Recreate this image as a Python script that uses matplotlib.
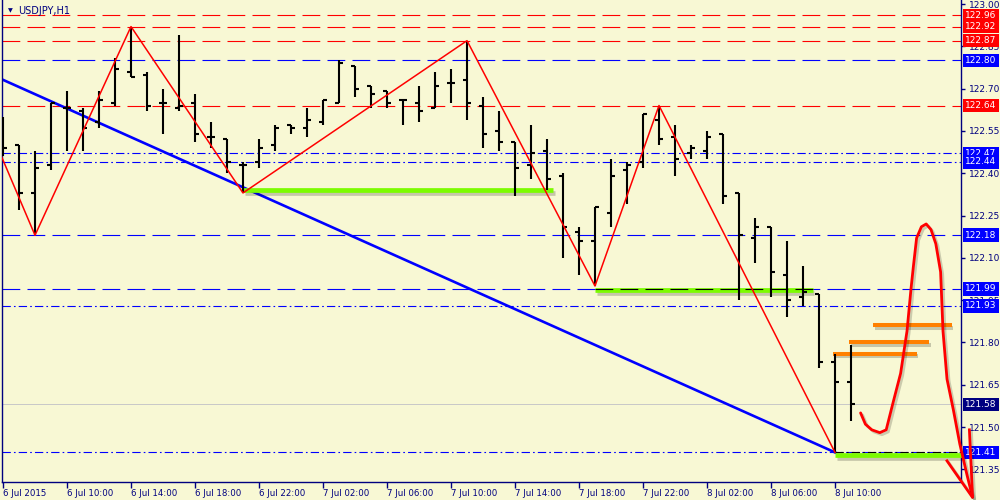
import matplotlib
matplotlib.use("Agg")
import matplotlib.pyplot as plt
import matplotlib.patheffects as pe
import numpy as np

# hourly OHLC bars, USDJPY H1 (bar 0 = first bar on screen)
opens = [122.54, 122.50, 122.33, 122.43, 122.63, 122.62, 122.58, 122.65, 122.76, 122.75,
         122.65, 122.63, 122.65, 122.53, 122.52, 122.43, 122.44, 122.50, 122.57, 122.56,
         122.58, 122.65, 122.78, 122.71, 122.69, 122.66, 122.65, 122.63, 122.72, 122.73,
         122.64, 122.55, 122.51, 122.43, 122.48, 122.39, 122.19, 122.16, 122.26, 122.41,
         122.44, 122.59, 122.53, 122.47, 122.48, 122.54, 122.33, 122.17, 122.21, 122.04,
         121.96, 121.97, 121.73, 121.66]
highs = [122.60, 122.50, 122.48, 122.65, 122.69, 122.63, 122.69, 122.81, 122.92, 122.76,
         122.70, 122.89, 122.68, 122.58, 122.52, 122.44, 122.52, 122.57, 122.57, 122.63,
         122.66, 122.80, 122.78, 122.71, 122.69, 122.66, 122.71, 122.76, 122.77, 122.87,
         122.67, 122.62, 122.51, 122.57, 122.52, 122.40, 122.21, 122.28, 122.45, 122.44,
         122.61, 122.64, 122.57, 122.50, 122.55, 122.54, 122.33, 122.24, 122.21, 122.16,
         122.07, 121.97, 121.76, 121.79]
lows = [122.46, 122.27, 122.18, 122.41, 122.48, 122.48, 122.56, 122.64, 122.74, 122.62,
        122.54, 122.62, 122.51, 122.49, 122.40, 122.33, 122.42, 122.48, 122.54, 122.53,
        122.57, 122.65, 122.67, 122.63, 122.63, 122.57, 122.58, 122.63, 122.65, 122.59,
        122.49, 122.48, 122.32, 122.38, 122.34, 122.10, 122.04, 122.00, 122.21, 122.29,
        122.42, 122.50, 122.39, 122.45, 122.45, 122.29, 121.95, 122.08, 121.96, 121.89,
        121.93, 121.71, 121.41, 121.52]
closes = [122.49, 122.33, 122.42, 122.65, 122.63, 122.56, 122.66, 122.77, 122.74, 122.64,
          122.65, 122.64, 122.54, 122.53, 122.44, 122.43, 122.49, 122.56, 122.56, 122.59,
          122.66, 122.79, 122.70, 122.68, 122.65, 122.66, 122.62, 122.71, 122.72, 122.65,
          122.54, 122.51, 122.42, 122.47, 122.38, 122.21, 122.16, 122.28, 122.39, 122.43,
          122.61, 122.52, 122.45, 122.49, 122.53, 122.32, 122.18, 122.21, 122.05, 121.95,
          121.98, 121.73, 121.66, 121.58]

time_labels = ["6 Jul 2015", "6 Jul 10:00", "6 Jul 14:00", "6 Jul 18:00", "6 Jul 22:00",
               "7 Jul 02:00", "7 Jul 06:00", "7 Jul 10:00", "7 Jul 14:00", "7 Jul 18:00",
               "7 Jul 22:00", "8 Jul 02:00", "8 Jul 06:00", "8 Jul 10:00"]

# zigzag indicator vertices (bar, price)
zz_bars = [-1, 2, 8, 15, 29, 37, 41, 52]
zz_prices = [122.58, 122.18, 122.92, 122.33, 122.87, 122.00, 122.64, 121.41]

# trend line anchors
trend_bars = [15, 52]
trend_prices = [122.35, 121.41]

# horizontal levels
red_dash = [122.96, 122.92, 122.87, 122.64]
blue_dash = [122.80, 122.18, 121.99]
blue_dashdot = [122.47, 122.44, 121.93, 121.41]
last_price = 121.58

# support zones (start bar, end bar, price)
green_start = [15, 37, 52]
green_end = [34.4, 50.6, 60.0]
green_price = [122.34, 121.985, 121.40]

# resistance marks
orange_start = [54.4, 52.9, 51.9]
orange_end = [59.3, 57.9, 57.1]
orange_price = [121.86, 121.80, 121.76]

# hand-drawn forecast curve
sketch_bars = [53.6, 53.9, 54.3, 54.8, 55.2, 55.6, 56.1, 56.5, 56.75, 56.9, 57.1, 57.4,
               57.7, 58.0, 58.3, 58.6, 58.75, 59.0, 59.4, 59.8, 60.25, 60.6]
sketch_prices = [121.55, 121.51, 121.49, 121.48, 121.49, 121.58, 121.69, 121.84, 121.99,
                 122.07, 122.17, 122.21, 122.22, 122.20, 122.15, 122.05, 121.84, 121.67,
                 121.56, 121.44, 121.33, 121.25]
arrow_bars = [59.0, 60.6, 60.4]
arrow_prices = [121.38, 121.25, 121.49]

# price tags at the right (price, colour)
tag_prices = [122.96, 122.92, 122.87, 122.80, 122.64, 122.47, 122.44, 122.18,
              121.99, 121.93, 121.58, 121.41]
tag_colors = ["#FF0000", "#FF0000", "#FF0000", "#0000FF", "#FF0000", "#0000FF", "#0000FF",
              "#0000FF", "#0000FF", "#0000FF", "#000080", "#0000FF"]

bg = "#F8F8D4"
navy = "#000080"
plt.rcParams['font.family'] = ['DejaVu Sans']

fig = plt.figure(figsize=(10, 5), dpi=100, facecolor=bg)
ax = fig.add_axes([0.002, 0.036, 0.959, 0.964])
ax.set_facecolor(bg)
ax.set_xlim(-0.0625, 59.875)
ax.set_ylim(121.305, 123.0142)

dash = (0, (16, 6.5))
dashdot = (0, (7.5, 2.8, 1.5, 2.8))

for p in red_dash:
    ax.axhline(p, color="#FF0000", lw=0.8, ls=dash, zorder=1)
for p in blue_dash:
    ax.axhline(p, color="#0000FF", lw=0.8, ls=dash, zorder=1)
for p in blue_dashdot:
    ax.axhline(p, color="#0000FF", lw=0.8, ls=dashdot, zorder=1)
ax.axhline(last_price, color="#C8C8C8", lw=0.7, zorder=1)

# trend line
slope = (trend_prices[1] - trend_prices[0]) / (trend_bars[1] - trend_bars[0])
tx = np.array([-1, trend_bars[1]])
ax.plot(tx, trend_prices[1] + slope * (tx - trend_bars[1]), color="#0000FF", lw=1.9, zorder=2)

# support zones
shadow = [pe.SimpleLineShadow(offset=(1.2, -2.0), alpha=0.2, shadow_color="black"), pe.Normal()]
for s, e, p in zip(green_start, green_end, green_price):
    ax.plot([s, e], [p, p], color="#7CFC00", lw=3.4, solid_capstyle="butt",
            path_effects=shadow, zorder=3, clip_on=False)
ax.plot([37, 50.6], [121.99, 121.99], color="black", lw=0.8, ls=dash, zorder=3.5)
ax.plot([52, 59.875], [121.41, 121.41], color="black", lw=0.8, ls=dashdot, zorder=3.5)

for s, e, p in zip(orange_start, orange_end, orange_price):
    ax.plot([s, e], [p, p], color="#FF8000", lw=2.9, solid_capstyle="butt",
            path_effects=shadow, zorder=3)

# OHLC bars
idx = np.arange(len(opens))
ax.vlines(idx, lows, highs, color="black", lw=1.5, zorder=4)
ax.hlines(opens, idx - 0.28, idx, color="black", lw=1.5, zorder=4)
ax.hlines(closes, idx, idx + 0.28, color="black", lw=1.5, zorder=4)

# zigzag
ax.plot(zz_bars, zz_prices, color="#FF0000", lw=1.1, zorder=5)

# price tags
for p, c in zip(tag_prices, tag_colors):
    ax.annotate(f"{p:.2f}", xy=(1.0, p), xycoords=("axes fraction", "data"),
                xytext=(3.0, 0), textcoords="offset points", ha="left", va="center",
                fontsize=6.5, color="white", zorder=6, annotation_clip=False,
                bbox=dict(boxstyle="square,pad=0.25", fc=c, ec="none"))

# hand drawing
sk = [pe.SimpleLineShadow(offset=(1.5, -1.5), alpha=0.18, shadow_color="black"), pe.Normal()]
ax.plot(sketch_bars, sketch_prices, color="#FF0000", lw=2.0, zorder=7, clip_on=False,
        path_effects=sk, solid_joinstyle="round", solid_capstyle="round")
ax.plot(arrow_bars, arrow_prices, color="#FF0000", lw=2.0, zorder=7, clip_on=False,
        path_effects=sk, solid_joinstyle="miter")

# axes styling
for side in ["left", "bottom", "right"]:
    ax.spines[side].set_color(navy)
    ax.spines[side].set_linewidth(1.0)
ax.spines["top"].set_visible(False)

ax.yaxis.tick_right()
ax.set_yticks(np.round(np.arange(121.35, 123.01, 0.15), 2))
ax.set_yticklabels([f"{v:.2f}" for v in np.arange(121.35, 123.01, 0.15)])
ax.tick_params(axis="y", direction="out", length=3, width=1, color=navy,
               labelcolor=navy, labelsize=6.5, pad=3)

ax.set_xticks(np.arange(0, 53, 4))
ax.set_xticklabels(time_labels, ha="left")
ax.tick_params(axis="x", direction="out", length=4, width=1, color=navy,
               labelcolor=navy, labelsize=6.2, pad=1)

# symbol title
fig.text(0.008, 0.978, "\u25BC", fontsize=4.5, color=navy, va="center", ha="left")
fig.text(0.018, 0.979, "USDJPY,H1", fontsize=7, color=navy, va="center", ha="left")

fig.savefig("out.png", dpi=100, facecolor=bg)
